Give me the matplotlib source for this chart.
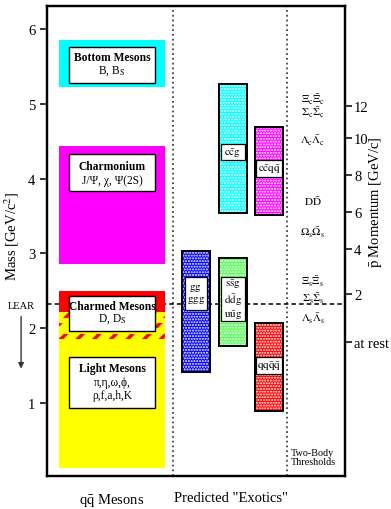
import matplotlib.pyplot as plt
import matplotlib.transforms as mtransforms
from matplotlib.patches import Rectangle

plt.rcParams['font.family'] = 'serif'
plt.rcParams['font.serif'] = ['Liberation Serif', 'DejaVu Serif']
plt.rcParams['mathtext.fontset'] = 'stix'

# q-qbar meson mass bands [GeV/c^2]
meson_names = ['Light Mesons', 'Charmed Mesons', 'Charmonium', 'Bottom Mesons']
meson_members = ['\u03c0,\u03b7,\u03c9,\u03d5,\n\u03c1,f,a,h,K',
                 'D, D$_\\mathrm{S}$',
                 'J/\u03a8, \u03c7, \u03a8(2S)',
                 'B, B$_\\mathrm{S}$']
meson_lo = [0.13, 1.85, 2.86, 5.22]
meson_hi = [2.21, 2.49, 4.43, 5.86]
meson_colors = ['#ffff00', '#ff0000', '#ff00ff', '#00ffff']

# predicted exotics [GeV/c^2]
exotic_labels = [r'$\mathrm{gg}$' + '\n' + r'$\mathrm{ggg}$',
                 r'$\mathrm{s\bar{s}g}$' + '\n' + r'$\mathrm{d\bar{d}g}$' + '\n' + r'$\mathrm{u\bar{u}g}$',
                 r'$\mathrm{c\bar{c}g}$',
                 r'$\mathrm{qq\bar{q}\bar{q}}$',
                 r'$\mathrm{c\bar{c}q\bar{q}}$']
exotic_col = [0, 1, 1, 2, 2]
exotic_lo = [1.41, 1.755, 3.54, 0.89, 3.515]
exotic_hi = [3.03, 2.94, 5.26, 2.07, 4.69]
exotic_colors = ['#0000ff', '#55ff55', '#00ffff', '#ff0000', '#ff00ff']

# two-body thresholds (mass)
thr_labels = [r'$\Xi_\mathrm{c}\bar{\Xi}_\mathrm{c}$', r'$\Sigma_\mathrm{c}\bar{\Sigma}_\mathrm{c}$',
              r'$\Lambda_\mathrm{c}\bar{\Lambda}_\mathrm{c}$', r'$\mathrm{D\bar{D}}$',
              r'$\Omega_\mathrm{s}\bar{\Omega}_\mathrm{s}$', r'$\Xi_\mathrm{s}\bar{\Xi}_\mathrm{s}$',
              r'$\Sigma_\mathrm{s}\bar{\Sigma}_\mathrm{s}$', r'$\Lambda_\mathrm{s}\bar{\Lambda}_\mathrm{s}$']
thr_mass = [5.067, 4.888, 4.524, 3.711, 3.288, 2.635, 2.40, 2.133]

# antiproton momentum scale (right axis), placed at matching mass
p_labels = ['12', '10', '8', '6', '4', '2', 'at rest']
p_mass = [4.968, 4.541, 4.051, 3.553, 3.061, 2.460, 1.815]

lear_mass = 2.319

# layout
meson_x, meson_w = 2.18, 3.56
col_x = [4.99, 6.24, 7.45]
col_w = 0.95
# label boxes: (center mass, height, title dy, members dy)
meson_box = [(1.27, 0.69, 0.20, -0.08), (2.20, 0.47, 0.10, -0.07),
             (4.08, 0.49, 0.09, -0.10), (5.52, 0.48, 0.105, -0.075)]
exotic_box = [(2.466, 0.436, 0.74), (2.386, 0.596, 0.80), (4.352, 0.209, 0.78),
              (1.499, 0.218, 0.90), (4.135, 0.217, 0.89)]

fig = plt.figure(figsize=(3.91, 5.10), dpi=100)
ax = fig.add_axes([47 / 391, 33 / 510, 298 / 391, 470 / 510])
ax.set_xlim(0, 10)
ax.set_ylim(0.02, 6.31)

# meson bands; the light/charm overlap gets red stripes
light, charm = 0, 1
ax.bar(meson_x, meson_hi[light] - meson_lo[light], bottom=meson_lo[light], width=meson_w,
       color=meson_colors[light], linewidth=0, zorder=2)
ax.bar(meson_x, meson_hi[charm] - meson_hi[light], bottom=meson_hi[light], width=meson_w,
       color=meson_colors[charm], linewidth=0, zorder=2)
for i in (2, 3):
    ax.bar(meson_x, meson_hi[i] - meson_lo[i], bottom=meson_lo[i], width=meson_w,
           color=meson_colors[i], linewidth=0, zorder=2)
ov_lo, ov_hi = meson_lo[charm], meson_hi[light]
step = (ov_hi - ov_lo) / 5
for k in (0, 2, 4):
    b = ax.bar(meson_x, step, bottom=ov_lo + k * step, width=meson_w, fill=False,
               edgecolor=meson_colors[charm], hatch='//', linewidth=0, zorder=2.5)
    for p in b:
        if hasattr(p, 'set_hatch_linewidth'):
            p.set_hatch_linewidth(2.5)

for i in range(len(meson_names)):
    cy, h, dyt, dym = meson_box[i]
    ax.add_patch(Rectangle((meson_x - 1.445, cy - h / 2), 2.89, h, facecolor='white',
                           edgecolor='black', linewidth=1.0, zorder=5))
    ax.text(meson_x, cy + dyt, meson_names[i], ha='center', va='center', fontsize=8.3,
            fontweight='bold', zorder=6)
    ax.text(meson_x, cy + dym, meson_members[i], ha='center', va='center', fontsize=8.3,
            multialignment='center', linespacing=1.05, zorder=6)

# exotics: dotted fill, black outline
ex_x = [col_x[c] for c in exotic_col]
ex_h = [hi - lo for lo, hi in zip(exotic_lo, exotic_hi)]
ax.bar(ex_x, ex_h, bottom=exotic_lo, width=col_w, color=exotic_colors, edgecolor='white',
       hatch='......', linewidth=0, zorder=3)
ax.bar(ex_x, ex_h, bottom=exotic_lo, width=col_w, fill=False, edgecolor='black',
       linewidth=1.4, zorder=4)
for i in range(len(exotic_labels)):
    cy, h, w = exotic_box[i]
    ax.add_patch(Rectangle((ex_x[i] - w / 2, cy - h / 2), w, h, facecolor='white',
                           edgecolor='black', linewidth=0.9, zorder=5))
    ax.text(ex_x[i], cy, exotic_labels[i], ha='center', va='center', fontsize=8,
            linespacing=1.1, zorder=6)

# section dividers and LEAR line
for xv in (4.23, 8.06):
    ax.axvline(xv, ls=':', color='#444444', lw=1.3, zorder=1)
ax.axhline(lear_mass, ls=(0, (3, 2)), color='black', lw=1.1, zorder=1.5)

trans = mtransforms.blended_transform_factory(ax.transAxes, ax.transData)
ax.text(-0.087, lear_mass - 0.015, 'LEAR', transform=trans, ha='center', va='center',
        fontsize=7.5)
ax.annotate('', xy=(-0.087, 1.42), xytext=(-0.087, 2.19), xycoords=trans,
            textcoords=trans, annotation_clip=False,
            arrowprops=dict(arrowstyle='-|>', color='#333333', lw=1.0, mutation_scale=8))

for lab, m in zip(thr_labels, thr_mass):
    ax.text(8.92, m, lab, ha='center', va='center', fontsize=8)
ax.text(8.18, 0.28, 'Two-Body\nThresholds', ha='left', va='center', fontsize=7.3,
        linespacing=1.0)

# axes
ax.set_xticks([meson_x, 6.17])
ax.set_xticklabels([r'q$\bar{\mathrm{q}}$ Mesons', 'Predicted "Exotics"'], fontsize=10.5)
ax.tick_params(axis='x', length=0, pad=11)
ax.set_yticks([1, 2, 3, 4, 5, 6])
ax.tick_params(axis='y', direction='out', length=5, width=1.1, labelsize=10.5)
ax.set_ylabel('Mass [GeV/c$^2$]', fontsize=10.5)
ax.yaxis.set_label_coords(-0.117, 0.512)
ax.yaxis.label.set_va('center')

ax2 = ax.twinx()
ax2.set_ylim(ax.get_ylim())
ax2.set_yticks(p_mass)
ax2.set_yticklabels(p_labels)
ax2.tick_params(axis='y', direction='out', length=5, width=1.1, labelsize=10.5, pad=1.5)
ax2.set_ylabel(r'$\bar{\mathrm{p}}$ Momentum [GeV/c]', fontsize=10.5)
ax2.yaxis.set_label_coords(1.104, 0.584)
ax2.yaxis.label.set_va('center')

for a in (ax, ax2):
    for s in a.spines.values():
        s.set_linewidth(1.6)

fig.savefig('out.png', dpi=100)
